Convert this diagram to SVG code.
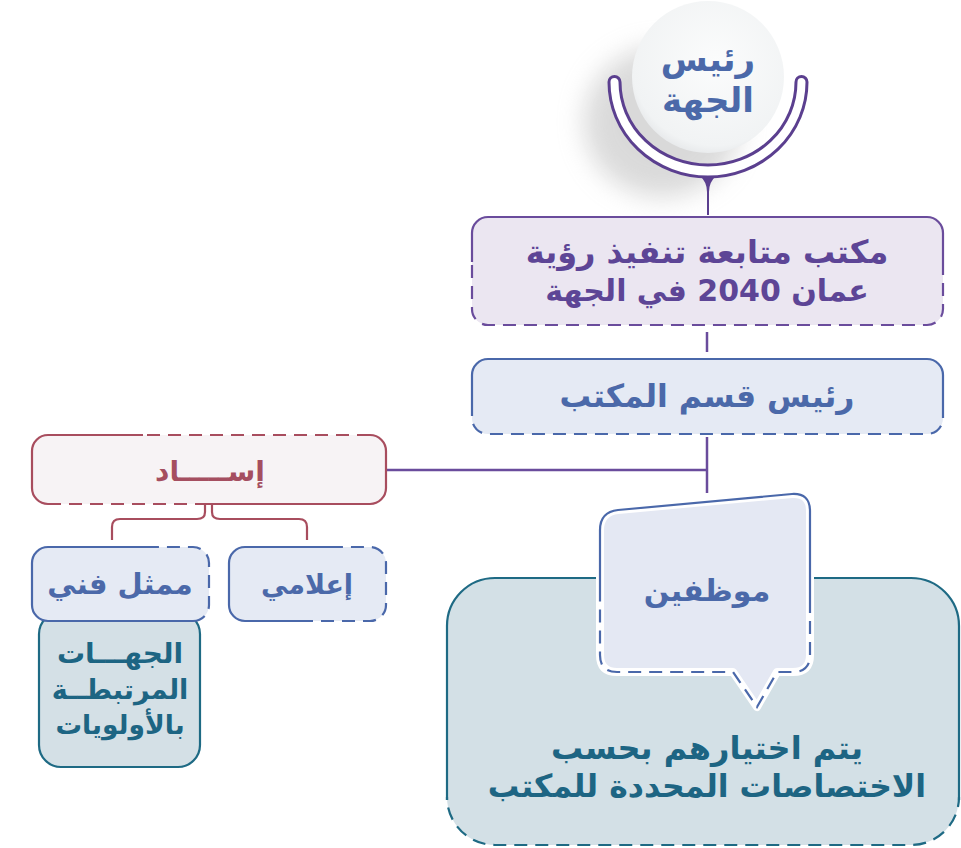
<svg xmlns="http://www.w3.org/2000/svg" width="961" height="848" viewBox="0 0 961 848">
<style>
.ar{font-family:"DejaVu Sans","Noto Sans",sans-serif;font-weight:bold;text-anchor:middle;direction:rtl}
.pu{fill:#5d4596}
.bl{fill:#4b69a9}
.rd{fill:#a54e60}
.tl{fill:#1d6583}
.sP{fill:none;stroke:#6a4c9c;stroke-width:2.2}
.sB{fill:none;stroke:#4a68aa;stroke-width:2.2}
.sR{fill:none;stroke:#a84d5e;stroke-width:2.2}
.sT{fill:none;stroke:#1e6a84;stroke-width:2.2}
.d{stroke-dasharray:13 8}
</style>
<defs>
<filter id="blur" x="-50%" y="-50%" width="200%" height="200%"><feGaussianBlur stdDeviation="13"/></filter>
<radialGradient id="cg" cx="0.55" cy="0.4" r="0.65"><stop offset="0" stop-color="#fbfcfc"/><stop offset="0.85" stop-color="#f1f3f4"/><stop offset="1" stop-color="#e2e4e6"/></radialGradient>
</defs>
<rect width="961" height="848" fill="#ffffff"/>

<g id="connectors">
<line x1="707" y1="332" x2="707" y2="352" stroke="#6a4c9c" stroke-width="2.5"/>
<line x1="707" y1="437" x2="707" y2="493" stroke="#6a4c9c" stroke-width="2.5"/>
<line x1="386" y1="470" x2="707" y2="470" stroke="#6a4c9c" stroke-width="2.5"/>
<path d="M205,504 V512 Q205,519 197,519 H120 Q112,519 112,527 V540" class="sR"/>
<path d="M212,504 V512 Q212,519 220,519 H299 Q307,519 307,527 V540" class="sR"/>
</g>

<g id="head">
<ellipse cx="662" cy="122" rx="78" ry="75" fill="#b5b5b5" opacity="0.5" filter="url(#blur)"/>
<path d="M609,82 A99,95 0 0 0 807,82 A5.5,5.5 0 0 0 796,82 A88,83 0 0 1 620,82 A5.5,5.5 0 0 0 609,82 Z" fill="#ffffff"/>
<circle cx="708" cy="77" r="76" fill="url(#cg)"/>
<path d="M609,82 A99,95 0 0 0 807,82 A5.5,5.5 0 0 0 796,82 A88,83 0 0 1 620,82 A5.5,5.5 0 0 0 609,82 Z" fill="none" stroke="#5b3f8f" stroke-width="3"/>
<path d="M700,176 Q707,182 707,192 V215 H709 V192 Q709,182 716,176 Z" fill="#5b3f8f"/>
<text class="ar bl" font-size="34" x="708" y="71">رئيس</text>
<text class="ar bl" font-size="34" x="708" y="112">الجهة</text>
</g>

<g id="office">
<rect x="472" y="217" width="471" height="108" rx="16" fill="#ebe6f1"/>
<path class="sP" d="M472,262 V233 A16,16 0 0 1 488,217 H927 A16,16 0 0 1 943,233 V262"/>
<path class="sP d" d="M943,262 V309 A16,16 0 0 1 927,325 H488 A16,16 0 0 1 472,309 V262"/>
<text class="ar pu" font-size="32" x="707" y="263">مكتب متابعة تنفيذ رؤية</text>
<text class="ar pu" font-size="30" x="707" y="301">عمان 2040 في الجهة</text>
</g>

<g id="section-head">
<rect x="472" y="359" width="471" height="75" rx="16" fill="#e5eaf4"/>
<path class="sB" d="M472,405 V375 A16,16 0 0 1 488,359 H927 A16,16 0 0 1 943,375 V405"/>
<path class="sB d" d="M943,405 V418 A16,16 0 0 1 927,434 H488 A16,16 0 0 1 472,418 V405"/>
<text class="ar bl" font-size="31.5" x="707" y="407">رئيس قسم المكتب</text>
</g>

<g id="isnad">
<rect x="32" y="435" width="354" height="69" rx="16" fill="#f7f3f5"/>
<path class="sR" d="M143,435 H48 A16,16 0 0 0 32,451 V488 A16,16 0 0 0 48,504"/>
<path class="sR d" d="M48,504 H205"/>
<path class="sR" d="M205,504 H370 A16,16 0 0 0 386,488 V451 A16,16 0 0 0 370,435"/>
<path class="sR d" d="M370,435 H143"/>
<text class="ar rd" font-size="28" x="210" y="481">إســـــاد</text>
</g>

<g id="related">
<rect x="39" y="612" width="161" height="155" rx="22" fill="#d4e0e6" stroke="#1e6a84" stroke-width="2.2"/>
<text class="ar tl" font-size="28" x="120" y="663">الجهـــات</text>
<text class="ar tl" font-size="27" x="120" y="699">المرتبطــة</text>
<text class="ar tl" font-size="26.5" x="120" y="734">بالأولويات</text>
</g>

<g id="tech">
<rect x="32" y="547" width="177" height="74" rx="16" fill="#e5eaf4"/>
<path class="sB" d="M153,547 H48 A16,16 0 0 0 32,563 V605 A16,16 0 0 0 48,621 H193"/>
<path class="sB d" d="M193,621 A16,16 0 0 0 209,605 V563 A16,16 0 0 0 193,547 H153"/>
<text class="ar bl" font-size="29" x="120" y="594">ممثل فني</text>
</g>

<g id="media">
<rect x="229" y="547" width="157" height="74" rx="16" fill="#e5eaf4"/>
<path class="sB" d="M337,547 H245 A16,16 0 0 0 229,563 V605 A16,16 0 0 0 245,621 H300"/>
<path class="sB d" d="M300,621 H370 A16,16 0 0 0 386,605 V563 A16,16 0 0 0 370,547 H337"/>
<text class="ar bl" font-size="27" x="307" y="594">إعلامي</text>
</g>

<g id="staff-box">
<rect x="447" y="578" width="512" height="267" rx="48" fill="#d3e0e6"/>
<path class="sT" d="M447,800 V626 A48,48 0 0 1 495,578 H911 A48,48 0 0 1 959,626 V800"/>
<path class="sT d" d="M959,800 V797 A48,48 0 0 1 911,845 H495 A48,48 0 0 1 447,797 V800"/>
<text class="ar tl" font-size="32" x="707" y="759">يتم اختيارهم بحسب</text>
<text class="ar tl" font-size="31.5" x="707" y="797">الاختصاصات المحددة للمكتب</text>
</g>

<g id="staff">
<path d="M600,530 Q600,512 618,510 L792,494 Q810,493 810,511 V655 Q810,672 793,672 H777 L757,707 L733,672 H617 Q600,672 600,655 Z" fill="#e4e8f3" stroke="#ffffff" stroke-width="8" stroke-linejoin="round"/>
<path class="sB" d="M600,600 V530 Q600,512 618,510 L792,494 Q810,493 810,511 V600"/>
<path class="sB d" d="M810,600 V655 Q810,672 793,672 H777 L757,707 L733,672 H617 Q600,672 600,655 V600"/>
<text class="ar bl" font-size="30" x="707" y="601">موظفين</text>
</g>
</svg>
